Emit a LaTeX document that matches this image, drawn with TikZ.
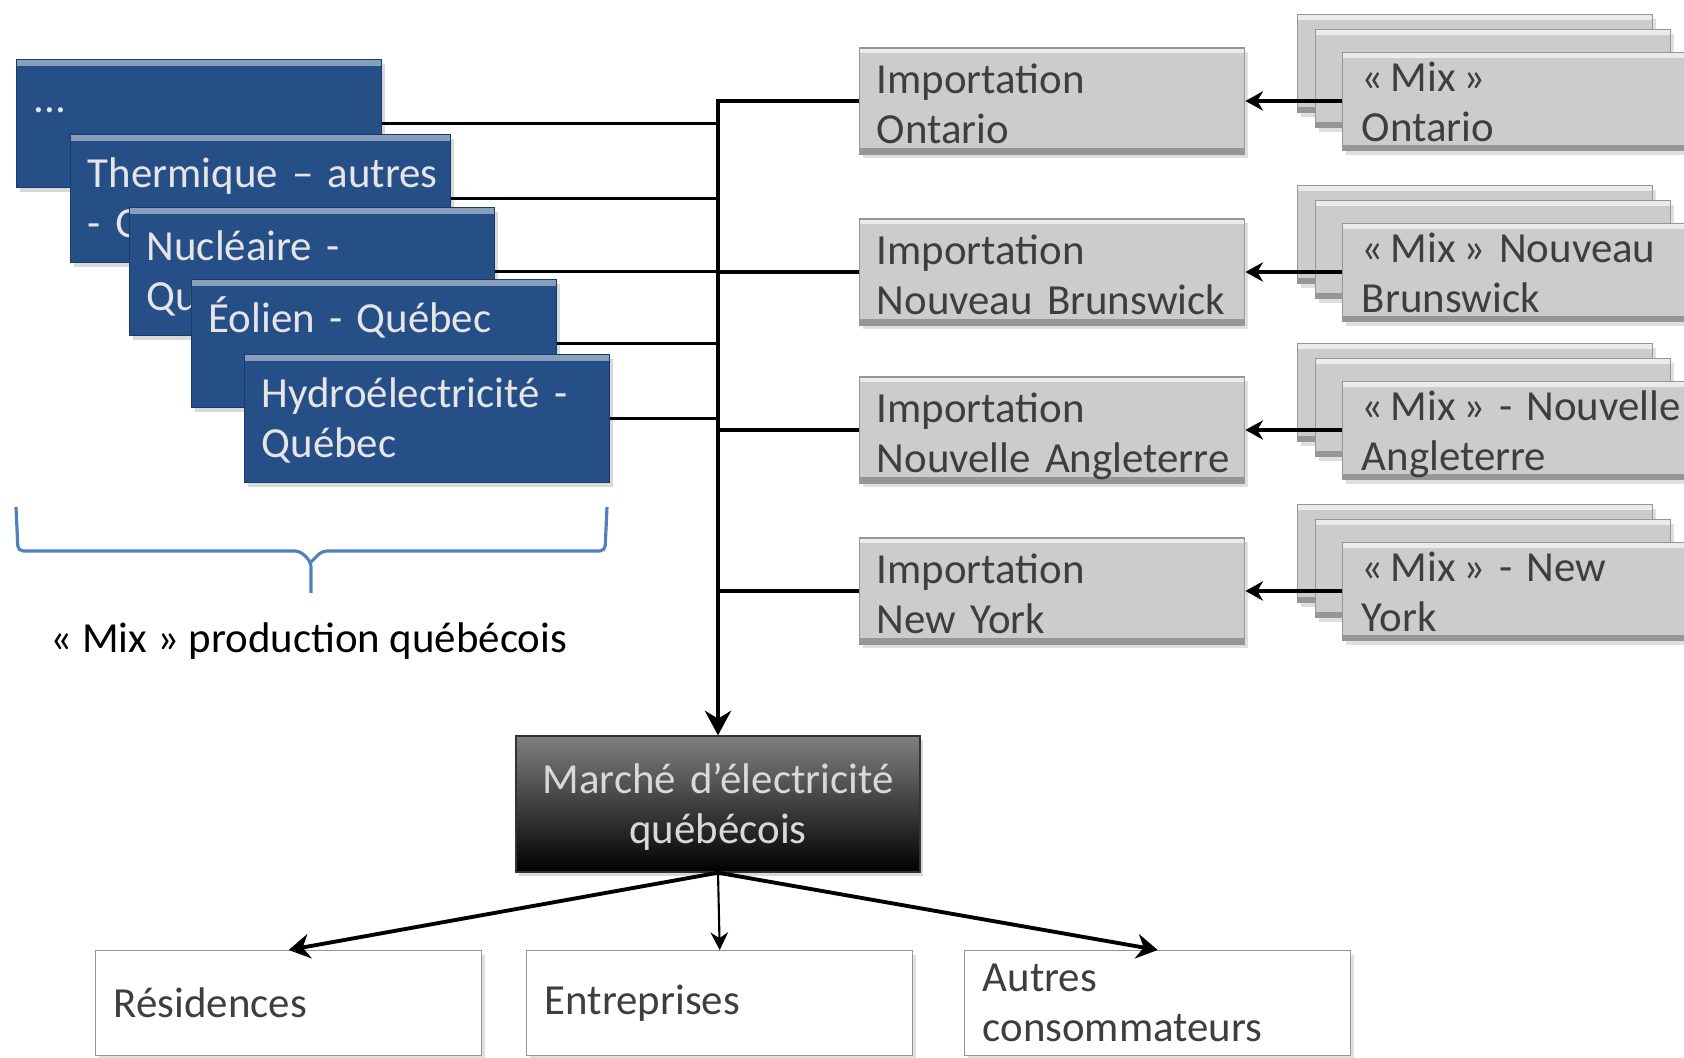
\documentclass[tikz,border=0pt]{standalone}
\usepackage{fontspec}
\setmainfont{Carlito}
\usepackage{tikz}
\usetikzlibrary{arrows.meta,positioning,shadows}
\definecolor{prodblue}{RGB}{38,79,136}
\definecolor{prodedge}{RGB}{28,58,102}
\definecolor{impgrey}{RGB}{204,204,204}
\definecolor{impedge}{RGB}{150,150,150}
\definecolor{greytext}{RGB}{62,62,62}
\definecolor{bracecol}{RGB}{79,129,189}
\hyphenpenalty=10000
\exhyphenpenalty=10000

\tikzset{
  every node/.style={font=\fontsize{12.2}{14.2}\selectfont},
  prodbox/.style={anchor=north west, fill=prodblue, draw=prodedge, text=white!90!black,
    align=left, inner xsep=0.17cm, inner ysep=0.15cm, text width=3.31cm,
    text height=0.38cm, text depth=0.60cm,
    drop shadow={shadow xshift=0.03cm, shadow yshift=-0.04cm, opacity=0.3},
    path picture={\fill[prodblue!55!white] (path picture bounding box.north west)
      rectangle ([yshift=-0.06cm]path picture bounding box.north east);}},
  greybox/.style={fill=impgrey, draw=impedge, text=greytext, align=left,
    drop shadow={shadow xshift=0.03cm, shadow yshift=-0.04cm, opacity=0.25},
    path picture={\fill[white!60!impgrey] (path picture bounding box.north west)
      rectangle ([yshift=-0.05cm]path picture bounding box.north east);
      \fill[impedge] (path picture bounding box.south west)
      rectangle ([yshift=0.06cm]path picture bounding box.south east);}},
  impbox/.style={greybox, anchor=west, inner xsep=0.17cm, inner ysep=0.05cm,
    text width=3.51cm, text height=0.405cm, text depth=0.555cm},
  mixbox/.style={greybox, anchor=north west, inner xsep=0.19cm, inner ysep=0cm,
    text width=3.17cm, text height=0.39cm, text depth=0.59cm},
  marchebox/.style={top color=black!50, bottom color=black, draw=black!80,
    text=white!85!black, align=center, inner xsep=0.17cm, inner ysep=0.18cm,
    text width=3.70cm, text height=0.40cm, text depth=0.60cm,
    drop shadow={shadow xshift=0.03cm, shadow yshift=-0.04cm, opacity=0.3}},
  userbox/.style={anchor=north west, fill=white, draw=impedge, text=greytext,
    align=left, inner xsep=0.18cm, text width=3.50cm, minimum height=1.05cm,
    drop shadow={shadow xshift=0.03cm, shadow yshift=-0.04cm, opacity=0.25}},
  wire/.style={line width=1.1pt, black},
  thinwire/.style={line width=0.6pt, black},
}

\begin{document}
\begin{tikzpicture}[x=1cm,y=1cm]
  \clip (0,0) rectangle (16.84,10.57);

  % production mix (blue stack)
  \node[prodbox] (b0) at (0.16,9.98) {...};
  \node[prodbox, text width=3.46cm] (b1) at (0.70,9.23) {Thermique~--~autres\\-~Québec};
  \node[prodbox] (b2) at (1.29,8.50) {Nucléaire~-\\Québec};
  \node[prodbox] (b3) at (1.91,7.78) {Éolien~-~Québec};
  \node[prodbox] (b4) at (2.44,7.03) {Hydroélectricité~-\\Québec};

  % brace
  \draw[bracecol, line width=0.9pt, rounded corners=1.5pt]
    (0.16,5.50) -- (0.18,5.06) -- (3.00,5.06) -- (3.11,4.95) -- (3.11,4.64);
  \draw[bracecol, line width=0.9pt, rounded corners=1.5pt]
    (3.11,4.95) -- (3.22,5.06) -- (6.05,5.06) -- (6.07,5.50);
  \node (mixlabel) at (3.09,4.16) {«~Mix~» production québécois};

  % imports
  \node[impbox] (imp1) at (8.59,9.56) {Importation\\Ontario};
  \node[impbox] (imp2) at (8.59,7.85) {Importation\\Nouveau~Brunswick};
  \node[impbox] (imp3) at (8.59,6.27) {Importation\\Nouvelle~Angleterre};
  \node[impbox] (imp4) at (8.59,4.66) {Importation\\New~York};

  % neighbour mixes
  \node[mixbox] (mix1c) at (12.97,10.43) {};
  \node[mixbox] (mix1b) at (13.15,10.28) {};
  \node[mixbox] (mix1) at (13.42,10.05) {«\,Mix\,»\\Ontario};

  \node[mixbox] (mix2c) at (12.97,8.72) {};
  \node[mixbox] (mix2b) at (13.15,8.57) {};
  \node[mixbox] (mix2) at (13.42,8.34) {«\,Mix\,»~Nouveau\\Brunswick};

  \node[mixbox] (mix3c) at (12.97,7.14) {};
  \node[mixbox] (mix3b) at (13.15,6.99) {};
  \node[mixbox] (mix3) at (13.42,6.76) {«\,Mix\,»~-~Nouvelle\\Angleterre};

  \node[mixbox] (mix4c) at (12.97,5.53) {};
  \node[mixbox] (mix4b) at (13.15,5.38) {};
  \node[mixbox] (mix4) at (13.42,5.15) {«\,Mix\,»~-~New\\York};

  % market and consumers
  \node[marchebox] (march) at (7.18,2.53) {Marché~d’électricité\\québécois};
  \node[userbox] (resid) at (0.95,1.07) {Résidences};
  \node[userbox] (entr) at (5.26,1.07) {Entreprises};
  \node[userbox] (autres) at (9.64,1.07) {Autres\\consommateurs};

  % connectors
  \draw[line width=0.9pt] (b0.east) -- (b0.east -| march.north);
  \draw[line width=0.9pt] (b1.east) -- (b1.east -| march.north);
  \draw[line width=0.9pt] (b2.east) -- (b2.east -| march.north);
  \draw[line width=0.9pt] (b3.east) -- (b3.east -| march.north);
  \draw[line width=0.9pt] (b4.east) -- (b4.east -| march.north);

  \draw[wire, -{Stealth[length=7pt,width=7.5pt]}] (imp1.west) -| (march.north);
  \draw[wire] (imp2.west) -- (imp2.west -| march.north);
  \draw[wire] (imp3.west) -- (imp3.west -| march.north);
  \draw[wire] (imp4.west) -- (imp4.west -| march.north);

  \draw[wire, -{Stealth[length=5pt,width=5.5pt]}] (mix1.west |- imp1.east) -- (imp1.east);
  \draw[wire, -{Stealth[length=5pt,width=5.5pt]}] (mix2.west |- imp2.east) -- (imp2.east);
  \draw[wire, -{Stealth[length=5pt,width=5.5pt]}] (mix3.west |- imp3.east) -- (imp3.east);
  \draw[wire, -{Stealth[length=5pt,width=5.5pt]}] (mix4.west |- imp4.east) -- (imp4.east);

  \draw[wire, -{Stealth[length=6pt,width=7pt]}] (march.south) -- (resid.north);
  \draw[thinwire, -{Stealth[length=5pt,width=5pt]}] (march.south) -- (entr.north);
  \draw[wire, -{Stealth[length=6pt,width=7pt]}] (march.south) -- (autres.north);
\end{tikzpicture}
\end{document}
